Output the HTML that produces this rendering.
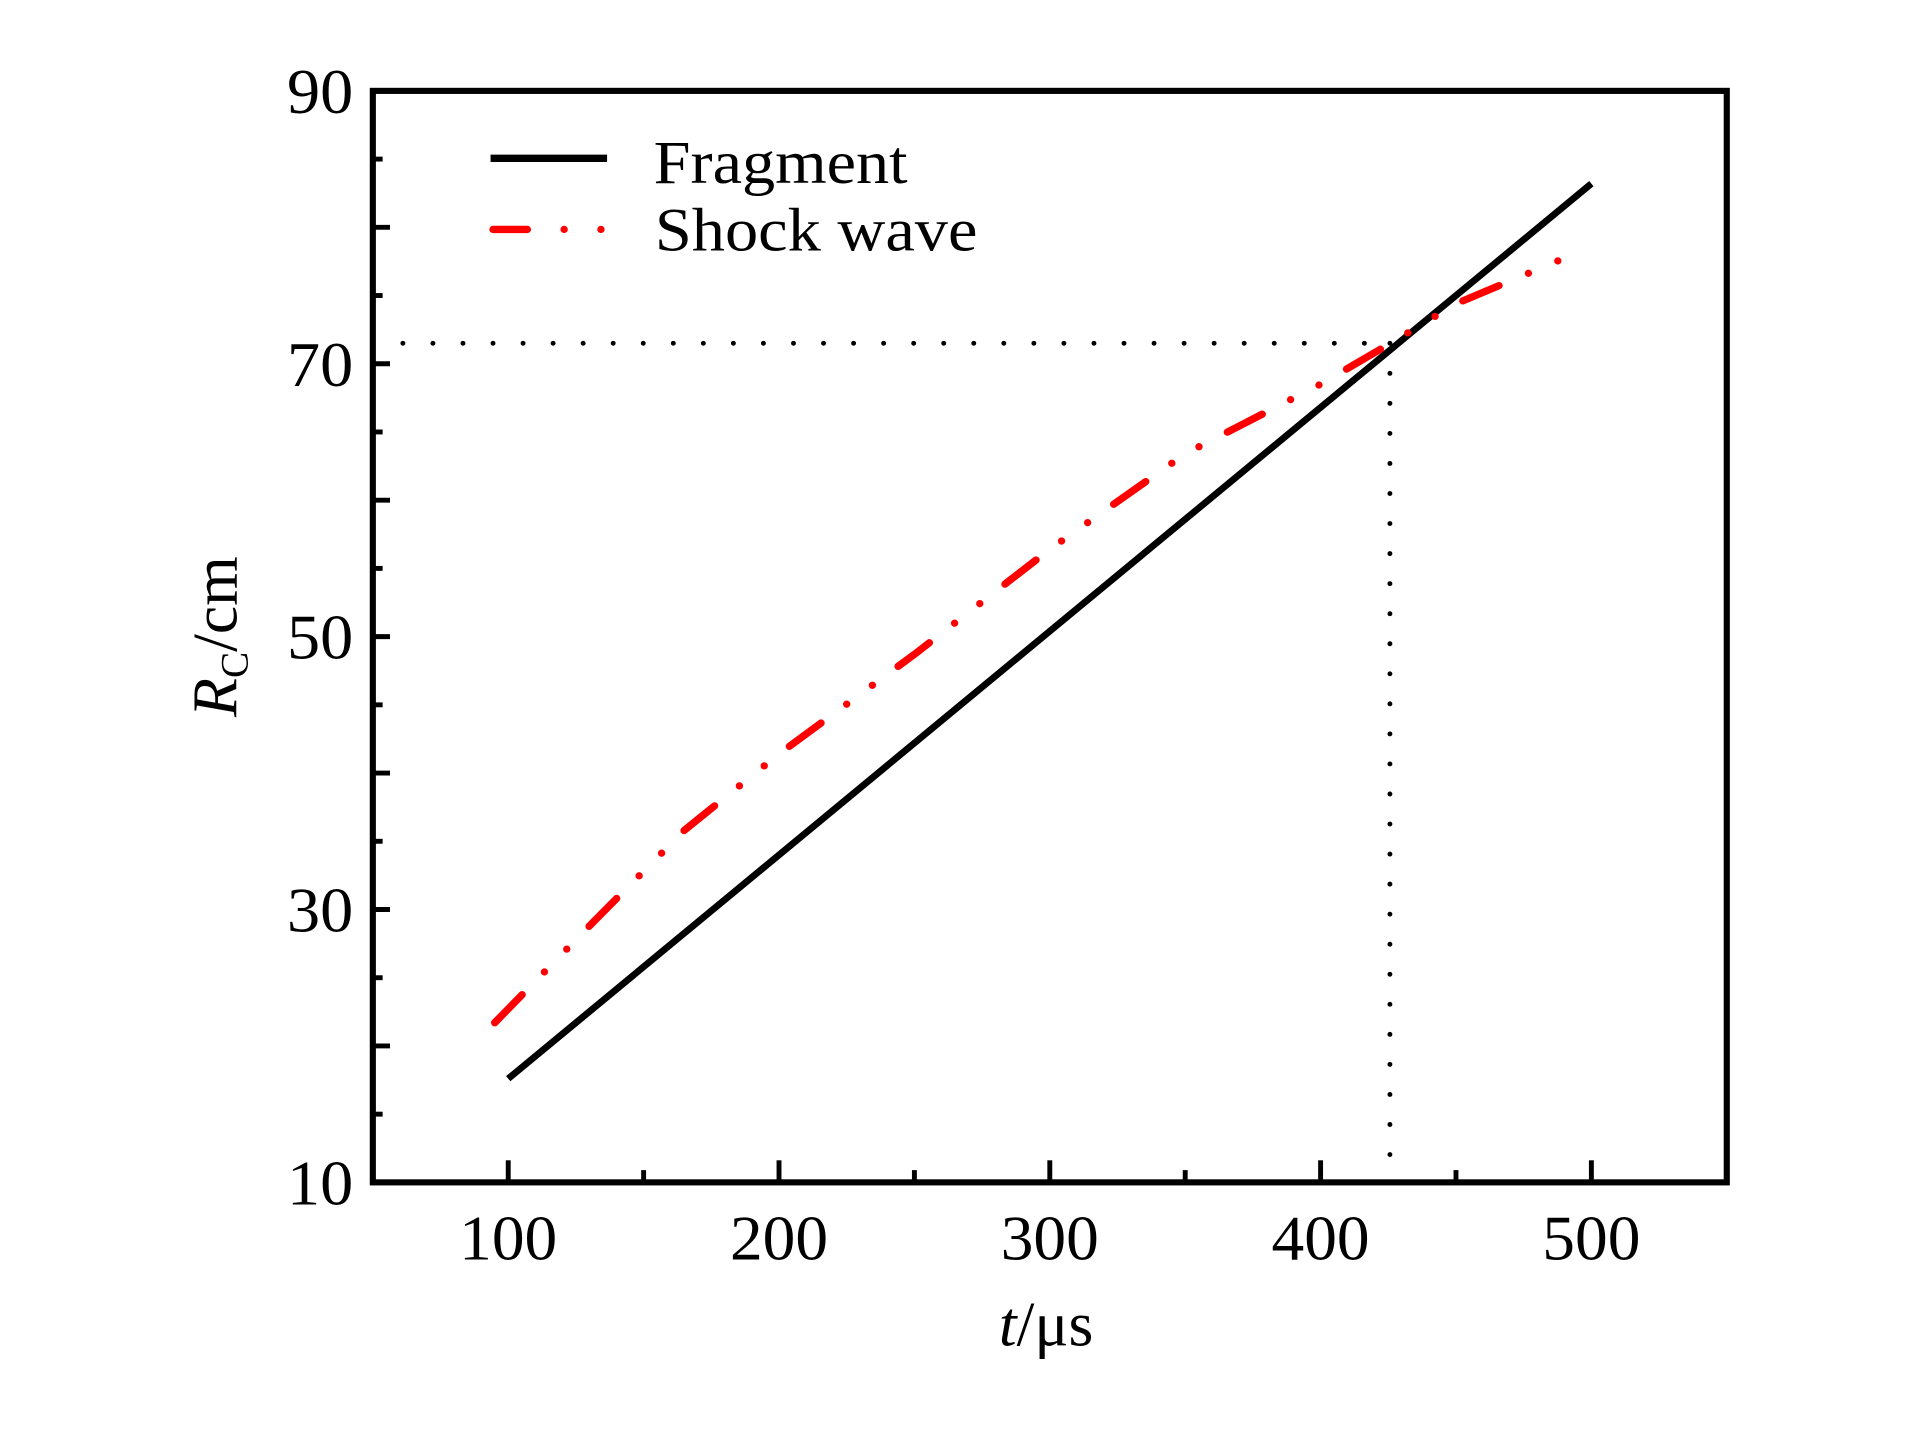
<!DOCTYPE html>
<html><head><meta charset="utf-8">
<style>
html,body{margin:0;padding:0;background:#fff;width:1923px;height:1429px;overflow:hidden}
svg{display:block}
text{font-family:"Liberation Serif",serif;fill:#000}
</style></head>
<body>
<svg id="chart" width="1923" height="1429" viewBox="0 0 1568 1165" xmlns="http://www.w3.org/2000/svg">
<g id="marks"></g>
<rect x="304" y="74" width="1104" height="890" fill="none" stroke="#000" stroke-width="5"/>
<g>
<line x1="400" y1="129" x2="495" y2="129" stroke="#000" stroke-width="6"/>
<text x="533" y="149" font-size="50" textLength="207" lengthAdjust="spacingAndGlyphs">Fragment</text>
<line x1="402" y1="187" x2="495" y2="187" stroke="#f00" stroke-width="6" stroke-linecap="round" stroke-dasharray="28,30,0,30,0,40"/>
<text x="534" y="204" font-size="50" textLength="263" lengthAdjust="spacingAndGlyphs">Shock wave</text>
</g>
<text x="853" y="1097" font-size="52" text-anchor="middle"><tspan font-style="italic">t</tspan>/μs</text>
<text transform="translate(193,519) rotate(-90)" font-size="52" text-anchor="middle"><tspan font-style="italic">R</tspan><tspan font-size="32" dy="9">C</tspan><tspan dy="-9">/cm</tspan></text>
</svg>
<script>
const xTicks = [100, 200, 300, 400, 500];
const yTicks = [10, 30, 50, 70, 90];
const fragT = [100, 500];
const fragR = [17.6, 83.2];
const shockT = [95, 132, 165, 200, 250, 300, 350, 400, 425, 450, 498];
const shockR = [21.7, 29.2, 35.8, 41.4, 48.7, 56.4, 63.4, 68.5, 71.4, 74.4, 78.4];
const crossT = 425.6;
const crossR = 71.5;

const X = t => 304 + (t - 50) * (1104 / 500);
const Y = r => 964 - (r - 10) * (890 / 80);
const NS = 'http://www.w3.org/2000/svg';
const g = document.getElementById('marks');
function mk(tag, attrs) {
  const e = document.createElementNS(NS, tag);
  for (const k in attrs) e.setAttribute(k, attrs[k]);
  g.appendChild(e);
  return e;
}
for (let t = 100; t <= 500; t += 50) {
  const major = t % 100 === 0;
  const l = mk('line', {x1: X(t), x2: X(t), y1: 964, y2: 964 - (major ? 18 : 10), stroke: '#000', 'stroke-width': 4});
  
  
}
xTicks.forEach(t => {
  const tx = mk('text', {x: X(t), y: 1027, 'font-size': 52, 'text-anchor': 'middle', textLength: 80, lengthAdjust: 'spacingAndGlyphs'});
  tx.textContent = t;
  
  
});
for (let r = 15; r < 90; r += 5) {
  const major = r % 10 === 0;
  const l = mk('line', {x1: 304, x2: 304 + (major ? 14 : 8), y1: Y(r), y2: Y(r), stroke: '#000', 'stroke-width': 4});
  
  
}
yTicks.forEach(r => {
  const tx = mk('text', {x: 288, y: Y(r) + 18, 'font-size': 52, 'text-anchor': 'end', textLength: 54, lengthAdjust: 'spacingAndGlyphs'});
  tx.textContent = r;
  
  
});
const h = mk('line', {x1: 304, x2: X(crossT), y1: Y(crossR), y2: Y(crossR), stroke: '#000', 'stroke-width': 4, 'stroke-linecap': 'round', 'stroke-dasharray': '0,24.5'});


const v = mk('line', {x1: X(crossT), x2: X(crossT), y1: Y(crossR), y2: 964, stroke: '#000', 'stroke-width': 4, 'stroke-linecap': 'round', 'stroke-dasharray': '0,24.5'});


const f = mk('polyline', {points: fragT.map((t, i) => X(t) + ',' + Y(fragR[i])).join(' '), fill: 'none', stroke: '#000', 'stroke-width': 5.5});


const s = mk('polyline', {points: shockT.map((t, i) => X(t) + ',' + Y(shockR[i])).join(' '), fill: 'none', stroke: '#f00', 'stroke-width': 6, 'stroke-linecap': 'round', 'stroke-dasharray': '32,26,0,26,0,26'});


</script>
</body></html>
